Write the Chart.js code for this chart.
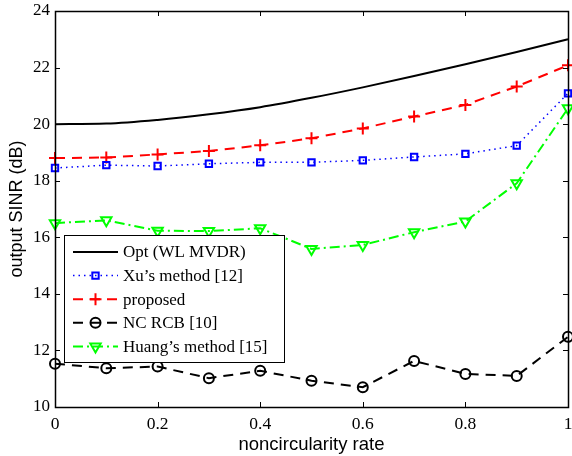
<!DOCTYPE html>
<html>
<head>
<meta charset="utf-8">
<script src="https://cdn.jsdelivr.net/npm/chart.js@4/dist/chart.umd.min.js"></script>
<style>
  html, body { margin: 0; padding: 0; background: #fff; }
</style>
</head>
<body>
<canvas id="sinrChart" width="572" height="456"></canvas>
<script>
// noncircularity rate (x axis)
const rates = [0, 0.1, 0.2, 0.3, 0.4, 0.5, 0.6, 0.7, 0.8, 0.9, 1.0];

// output SINR (dB) for each method
const optWL   = [20.0, 20.02, 20.15, 20.35, 20.6, 20.93, 21.3, 21.7, 22.12, 22.55, 23.0];
const xuSinr  = [18.45, 18.55, 18.52, 18.6, 18.65, 18.65, 18.72, 18.84, 18.95, 19.24, 21.09];
const propSinr = [18.8, 18.82, 18.93, 19.05, 19.25, 19.5, 19.85, 20.27, 20.68, 21.33, 22.08];
const ncRcb   = [11.53, 11.37, 11.43, 11.02, 11.28, 10.93, 10.7, 11.63, 11.17, 11.1, 12.48];
const huang   = [16.5, 16.6, 16.23, 16.22, 16.32, 15.59, 15.73, 16.18, 16.56, 17.91, 20.56];

const seriesNames = ['Opt (WL MVDR)', 'Xu\u2019s method [12]', 'proposed', 'NC RCB [10]', 'Huang\u2019s method [15]'];

const yTicks = [10, 12, 14, 16, 18, 20, 22, 24];
const xTicks = [0, 0.2, 0.4, 0.6, 0.8, 1];

function pts(vals) {
  return vals.map((v, i) => ({ x: rates[i], y: v }));
}

// legend drawn inside the plot, matlab style
const boxLegend = {
  id: 'boxLegend',
  afterDatasetsDraw(chart) {
    const ctx = chart.ctx;
    const left = 64, top = 235, w = 220, h = 127;
    ctx.save();
    ctx.fillStyle = '#fff';
    ctx.fillRect(left, top, w, h);
    ctx.strokeStyle = '#000';
    ctx.lineWidth = 1;
    ctx.setLineDash([]);
    ctx.strokeRect(left + 0.5, top + 0.5, w, h);

    chart.data.datasets.forEach((ds, i) => {
      const y = top + 17 + i * 23.6;
      ctx.strokeStyle = ds.borderColor;
      ctx.lineWidth = ds.borderWidth;
      ctx.setLineDash(ds.borderDash || []);
      ctx.beginPath();
      ctx.moveTo(73, y);
      ctx.lineTo(118, y);
      ctx.stroke();
      ctx.setLineDash([]);
      if (ds.pointRadius > 0) {
        ctx.strokeStyle = ds.pointBorderColor;
        ctx.fillStyle = ds.pointBackgroundColor;
        ctx.lineWidth = ds.pointBorderWidth;
        Chart.helpers.drawPoint(ctx, {
          pointStyle: ds.pointStyle,
          rotation: ds.pointRotation || 0,
          radius: ds.pointRadius,
          borderWidth: ds.pointBorderWidth
        }, 95.5, y);
      }
      ctx.fillStyle = '#000';
      ctx.font = '17px "Liberation Serif", "Times New Roman", serif';
      ctx.textBaseline = 'middle';
      ctx.textAlign = 'left';
      ctx.fillText(ds.label, 123, y + 1);
    });
    ctx.restore();
  }
};

// frame and inward ticks on all four sides
const frameTicks = {
  id: 'frameTicks',
  afterDraw(chart) {
    const ctx = chart.ctx;
    const a = chart.chartArea;
    const xs = chart.scales.x, ys = chart.scales.y;
    const len = 5;
    ctx.save();
    ctx.strokeStyle = '#000';
    ctx.lineWidth = 1;
    ctx.setLineDash([]);
    ctx.beginPath();
    xTicks.forEach(t => {
      const px = Math.round(xs.getPixelForValue(t)) + 0.5;
      ctx.moveTo(px, a.bottom); ctx.lineTo(px, a.bottom - len);
      ctx.moveTo(px, a.top); ctx.lineTo(px, a.top + len);
    });
    yTicks.forEach(t => {
      const py = Math.round(ys.getPixelForValue(t)) + 0.5;
      ctx.moveTo(a.left, py); ctx.lineTo(a.left + len, py);
      ctx.moveTo(a.right, py); ctx.lineTo(a.right - len, py);
    });
    ctx.stroke();
    ctx.lineWidth = 1.5;
    ctx.strokeRect(Math.round(a.left) + 0.5, Math.round(a.top) + 0.5,
                   Math.round(a.right - a.left), Math.round(a.bottom - a.top));
    ctx.restore();
  }
};

const serif = '"Liberation Serif", "Times New Roman", serif';
const sans = '"Liberation Sans", Arial, sans-serif';

new Chart(document.getElementById('sinrChart'), {
  type: 'line',
  data: {
    datasets: [
      {
        label: seriesNames[0], data: pts(optWL),
        borderColor: '#000', borderWidth: 2, pointRadius: 0,
        cubicInterpolationMode: 'monotone'
      },
      {
        label: seriesNames[1], data: pts(xuSinr),
        borderColor: '#0000ff', borderWidth: 1.5, borderDash: [1.5, 4],
        pointStyle: 'rect', pointRadius: 4.5, pointBorderWidth: 2,
        pointBorderColor: '#0000ff', pointBackgroundColor: 'rgba(0,0,0,0)'
      },
      {
        label: seriesNames[2], data: pts(propSinr),
        borderColor: '#ff0000', borderWidth: 2, borderDash: [10, 7],
        pointStyle: 'cross', pointRadius: 6, pointBorderWidth: 2,
        pointBorderColor: '#ff0000', pointBackgroundColor: 'rgba(0,0,0,0)'
      },
      {
        label: seriesNames[3], data: pts(ncRcb),
        borderColor: '#000', borderWidth: 2, borderDash: [10, 7],
        pointStyle: 'circle', pointRadius: 5, pointBorderWidth: 2,
        pointBorderColor: '#000', pointBackgroundColor: 'rgba(0,0,0,0)'
      },
      {
        label: seriesNames[4], data: pts(huang),
        borderColor: '#00ff00', borderWidth: 2, borderDash: [10, 4, 2, 4],
        pointStyle: 'triangle', pointRotation: 180, pointRadius: 6, pointBorderWidth: 2,
        pointBorderColor: '#00ff00', pointBackgroundColor: 'rgba(0,0,0,0)'
      }
    ]
  },
  options: {
    responsive: false,
    animation: false,
    clip: false,
    layout: { autoPadding: false, padding: { top: 11, right: 4, left: 0, bottom: 0 } },
    plugins: {
      legend: { display: false },
      tooltip: { enabled: false }
    },
    scales: {
      x: {
        type: 'linear', min: 0, max: 1,
        afterFit(scale) {
          scale.height = 49;
          scale.paddingLeft = 0;
          scale.paddingRight = 0;
        },
        afterBuildTicks(scale) { scale.ticks = xTicks.map(v => ({ value: v })); },
        grid: { display: false, drawTicks: false },
        border: { display: false },
        ticks: {
          color: '#000', padding: 7,
          font: { family: serif, size: 17.5 },
          callback: v => String(Number(v.toFixed(1)))
        },
        title: {
          display: true, text: 'noncircularity rate', color: '#000',
          font: { family: sans, size: 18.5 }, padding: { top: 0, bottom: 0 }
        }
      },
      y: {
        min: 10, max: 24,
        afterFit(scale) {
          scale.width = 55;
          scale.paddingTop = 0;
          scale.paddingBottom = 0;
        },
        afterBuildTicks(scale) { scale.ticks = yTicks.map(v => ({ value: v })); },
        grid: { display: false, drawTicks: false },
        border: { display: false },
        ticks: {
          color: '#000', padding: 5,
          font: { family: serif, size: 17 }
        },
        title: {
          display: true, text: 'output SINR (dB)', color: '#000',
          font: { family: sans, size: 18 }, padding: { top: 6, bottom: 0 }
        }
      }
    }
  },
  plugins: [boxLegend, frameTicks]
});
</script>
</body>
</html>
